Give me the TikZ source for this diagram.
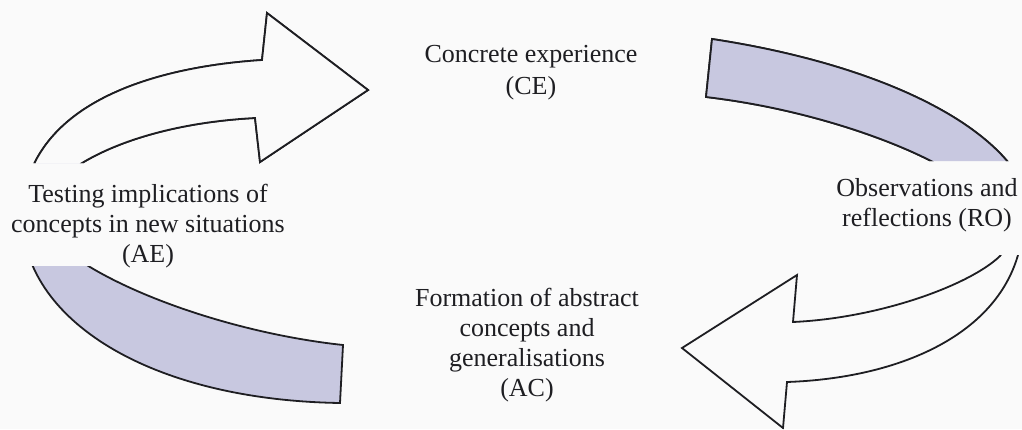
\documentclass[tikz,border=0pt]{standalone}
\usepackage{fontspec}
\setmainfont{Liberation Serif}
\usetikzlibrary{positioning}
\definecolor{ink}{HTML}{1E1E22}
\definecolor{lilac}{HTML}{C8C8E0}
\definecolor{paper}{HTML}{FAFAFA}
% outlines of the two curved arrows (pixel-like units)
\newcommand{\loopleft}{(343,345) -- (340,403) .. controls (150,400) and (22,320) .. (22,215)
  .. controls (25,110) and (140,68) .. (262,60) -- (267,13) -- (368,90) -- (260,162) -- (255,118)
  .. controls (180,122) and (120,140) .. (82,163) .. controls (45,185) and (45,240) .. (90,267)
  .. controls (150,303) and (250,335) .. (343,345) -- cycle}
\newcommand{\loopright}{(712,39) -- (706,97) .. controls (800,108) and (885,137) .. (933,162)
  .. controls (985,190) and (1015,240) .. (1000,256) .. controls (970,285) and (880,318) .. (793,322)
  -- (797,275) -- (682,348) -- (783,428) -- (787,382) .. controls (900,378) and (995,335) .. (1018,255)
  .. controls (1026,227) and (1028,186) .. (1008,162) .. controls (960,105) and (850,60) .. (712,39) -- cycle}
\tikzset{
  band/.style={draw=ink, line width=0.9pt, line join=miter},
  stage/.style={align=center, text=ink, font=\fontsize{13}{15}\selectfont, inner sep=0pt}
}

\begin{document}
\begin{tikzpicture}[x=0.5pt, y=-0.5pt]
  \fill[paper] (0,0) rectangle (1022,429);
  \useasboundingbox (0,0) rectangle (1022,429);

  % left arrow: shaded tail below, plain head above
  \begin{scope}
    \clip (0,0) rectangle (1022,163) (140,163) rectangle (1022,266) (0,266) rectangle (1022,429);
    \filldraw[band, fill=lilac] \loopleft;
    \clip (0,0) rectangle (1022,214);
    \filldraw[band, fill=paper] \loopleft;
  \end{scope}

  % right arrow: shaded tail above, plain head below
  \begin{scope}
    \clip (0,0) rectangle (1022,161) (0,161) rectangle (890,255) (0,255) rectangle (1022,429);
    \filldraw[band, fill=paper] \loopright;
    \clip (0,0) rectangle (1022,210);
    \filldraw[band, fill=lilac] \loopright;
  \end{scope}

  \node[stage] (ce) at (531,73) {Concrete experience\\[1pt](CE)};
  \node[stage] (ro) at (927,205) {Observations and\\reflections (RO)};
  \node[stage] (ac) at (527,345) {Formation of abstract\\concepts and\\generalisations\\(AC)};
  \node[stage] (ae) at (148,226) {Testing implications of\\concepts in new situations\\(AE)};
\end{tikzpicture}
\end{document}
